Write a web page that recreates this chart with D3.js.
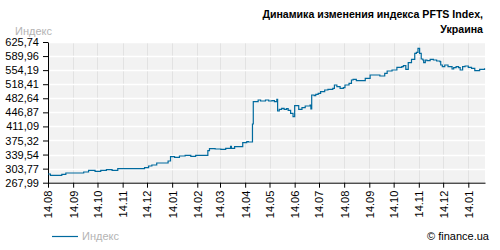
<!DOCTYPE html>
<html><head><meta charset="utf-8">
<script src="https://cdn.jsdelivr.net/npm/d3@7"></script>
<style>body{margin:0;background:#fff}svg{display:block}</style>
</head><body><svg id="c" width="500" height="250"></svg>
<script>
const dates = ["2013-08-14","2013-08-17","2013-08-31","2013-09-05","2013-09-27","2013-10-03","2013-10-11","2013-10-18","2013-10-25","2013-11-01","2013-11-08","2013-12-11","2013-12-16","2013-12-20","2013-12-26","2014-01-09","2014-01-12","2014-01-17","2014-01-23","2014-01-30","2014-02-06","2014-02-12","2014-02-27","2014-03-01","2014-03-08","2014-03-15","2014-03-21","2014-03-27","2014-03-28","2014-04-01","2014-04-11","2014-04-16","2014-04-18","2014-04-23","2014-04-24","2014-04-30","2014-05-03","2014-05-09","2014-05-13","2014-05-17","2014-05-20","2014-05-23","2014-05-24","2014-05-26","2014-05-29","2014-06-01","2014-06-04","2014-06-06","2014-06-09","2014-06-12","2014-06-14","2014-06-19","2014-06-23","2014-06-27","2014-07-03","2014-07-04","2014-07-05","2014-07-08","2014-07-10","2014-07-13","2014-07-16","2014-07-21","2014-07-25","2014-07-31","2014-08-02","2014-08-05","2014-08-09","2014-08-13","2014-08-15","2014-08-20","2014-08-23","2014-08-25","2014-08-29","2014-09-09","2014-09-15","2014-09-27","2014-10-03","2014-10-06","2014-10-12","2014-10-18","2014-10-24","2014-10-26","2014-10-29","2014-11-01","2014-11-05","2014-11-09","2014-11-11","2014-11-13","2014-11-15","2014-11-17","2014-11-19","2014-11-20","2014-11-22","2014-11-24","2014-11-28","2014-12-02","2014-12-06","2014-12-10","2014-12-11","2014-12-13","2014-12-16","2014-12-20","2014-12-25","2014-12-27","2014-12-30","2015-01-02","2015-01-04","2015-01-07","2015-01-10","2015-01-14","2015-01-18","2015-01-22","2015-01-28","2015-02-03"];
const values = [290.1,286.8,289.4,292.7,295.2,299.5,297.0,299.5,301.1,299.5,303.6,306.1,310.5,313.0,318.1,323.2,334.1,332.6,335.9,337.7,335.1,337.7,349.4,354.4,353.7,352.9,355.5,360.6,355.5,359.5,369.7,372.2,371.5,417.3,474.0,478.3,475.7,478.3,475.7,476.5,474.0,480.0,450.3,454.6,457.2,454.6,456.2,452.1,444.5,435.8,463.8,454.6,458.7,463.0,465.6,455.4,491.0,489.2,492.8,495.3,499.4,503.7,505.5,508.0,516.4,512.1,508.0,509.5,516.4,520.7,529.1,530.9,527.3,533.4,541.8,539.3,546.2,552.0,554.6,561.4,562.9,565.5,556.3,573.1,581.8,597.0,599.6,609.7,597.0,582.5,580.0,573.1,580.0,578.2,581.8,580.0,577.4,575.7,567.3,562.9,567.3,562.9,557.1,560.4,562.9,560.4,554.6,562.9,564.7,561.4,558.9,552.8,556.3,558.9];
const yTicks = [267.99,303.77,339.54,375.32,411.09,446.87,482.64,518.41,554.19,589.96,625.74];
const xTickDates = ["2013-08-14","2013-09-14","2013-10-14","2013-11-14","2013-12-14","2014-01-14","2014-02-14","2014-03-14","2014-04-14","2014-05-14","2014-06-14","2014-07-14","2014-08-14","2014-09-14","2014-10-14","2014-11-14","2014-12-14","2015-01-14"];
const domainDates = ["2013-08-14","2015-02-03T14:00"];
const titleLines = ["Динамика изменения индекса PFTS Index,","Украина"];
const seriesName = "Индекс";

const parse = d3.isoParse;
const data = dates.map((d,i)=>({date:parse(d), value:values[i]}));
const svg = d3.select("#c");
const font = "'Liberation Sans', Arial, sans-serif";
const L=48, R=485, T=42, B=182.7;
const x = d3.scaleTime().domain(domainDates.map(parse)).range([L,R]);
const y = d3.scaleLinear().domain([yTicks[0], yTicks[yTicks.length-1]]).range([B,T]);

svg.append("rect").attr("x",L).attr("y",T).attr("width",R-L).attr("height",B-T).attr("fill","#f2f2f2");
svg.append("g").selectAll("line").data(xTickDates.map(parse)).join("line")
  .attr("x1",d=>Math.round(x(d))+0.5).attr("x2",d=>Math.round(x(d))+0.5)
  .attr("y1",T).attr("y2",B).attr("stroke","#e2e2e2").attr("stroke-width",1);
svg.append("g").selectAll("line").data(yTicks).join("line")
  .attr("x1",L).attr("x2",R).attr("y1",d=>Math.round(y(d))+0.5).attr("y2",d=>Math.round(y(d))+0.5)
  .attr("stroke","#ffffff").attr("stroke-width",1.5);

const fmt = d3.formatLocale({decimal:",",thousands:" ",grouping:[3],currency:["",""]}).format(".2f");
const yAxis = svg.append("g").attr("transform",`translate(${L},0)`)
  .call(d3.axisLeft(y).tickValues(yTicks).tickFormat(fmt).tickSize(5).tickSizeOuter(0));
yAxis.selectAll("text").attr("font-family",font).attr("font-size",11).attr("fill","#000").attr("dx",-1);
yAxis.selectAll("line,path").attr("stroke","#000");

const xAxis = svg.append("g").attr("transform",`translate(0,${B})`)
  .call(d3.axisBottom(x).tickValues(xTickDates.map(parse)).tickFormat(d3.timeFormat("%d.%m")).tickSize(5).tickSizeOuter(0));
xAxis.selectAll("text").attr("font-family",font).attr("font-size",11).attr("fill","#000")
  .attr("transform","rotate(-90)").attr("text-anchor","end").attr("x",-8).attr("y",0).attr("dy","0.35em");
xAxis.selectAll("line,path").attr("stroke","#000");

svg.append("path").datum(data)
  .attr("d", d3.line().x(d=>x(d.date)).y(d=>y(d.value)).curve(d3.curveStepAfter))
  .attr("fill","none").attr("stroke","#006a9e").attr("stroke-width",1.2);

svg.append("g").selectAll("text").data(titleLines).join("text")
  .attr("x",483).attr("y",(d,i)=>18+i*15).attr("text-anchor","end")
  .attr("font-family",font).attr("font-weight","bold").attr("font-size",10.6).attr("fill","#000").text(d=>d);
svg.append("text").attr("x",15).attr("y",35).attr("font-family",font).attr("font-size",11).attr("fill","#b4b4b4").text(seriesName);
svg.append("line").attr("x1",52).attr("x2",78).attr("y1",236.5).attr("y2",236.5).attr("stroke","#006a9e").attr("stroke-width",1.2);
svg.append("text").attr("x",82).attr("y",240).attr("font-family",font).attr("font-size",11).attr("fill","#b4b4b4").text(seriesName);
svg.append("text").attr("x",489).attr("y",240).attr("text-anchor","end").attr("font-family",font).attr("font-size",11).attr("fill","#000").text("© finance.ua");
</script></body></html>
